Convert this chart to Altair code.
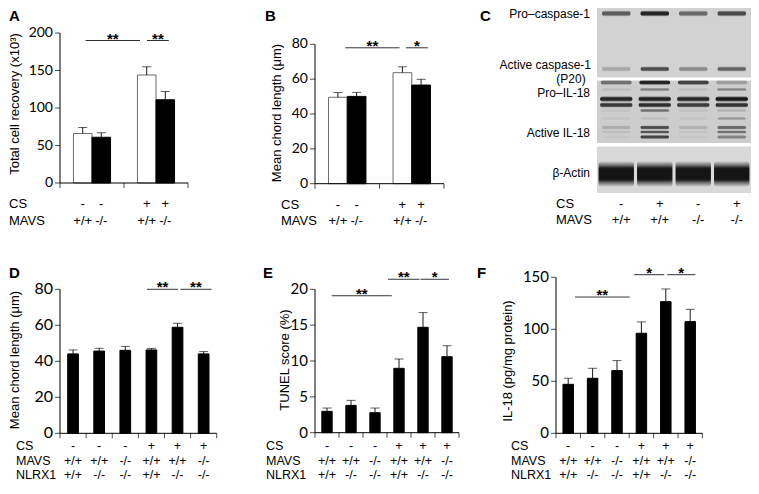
import altair as alt
import pandas as pd

OX, OY = 8, 8          # page margin
W, H = 743, 476        # whole canvas (chart coordinates)

LABEL_FONT = "Liberation Sans"
NUM_FONT = "Lato"

# ---------------- data ----------------
A_cs = ["-", "-", "+", "+"]
A_mavs = ["+/+", "-/-", "+/+", "-/-"]
A_values = [66, 61, 144, 111]
A_errors = [8, 6, 11, 11]
A_ticks = [0, 50, 100, 150, 200]
A_sig = [(0.40, 1.25, 190, "**"), (1.36, 1.70, 190, "**")]

B_cs = ["-", "-", "+", "+"]
B_mavs = ["+/+", "-/-", "+/+", "-/-"]
B_values = [49.6, 50.1, 63.7, 56.6]
B_errors = [2.7, 2.3, 3.4, 3.3]
B_ticks = [0, 20, 40, 60, 80]
B_sig = [(0.47, 1.31, 78, "**"), (1.41, 1.75, 78, "*")]

D_cs = ["-", "-", "-", "+", "+", "+"]
D_mavs = ["+/+", "+/+", "-/-", "+/+", "+/+", "-/-"]
D_nlrx1 = ["+/+", "-/-", "-/-", "+/+", "-/-", "-/-"]
D_values = [44.1, 45.7, 46.1, 46.3, 58.9, 44.1]
D_errors = [2.2, 1.5, 2.2, 0.9, 2.2, 1.3]
D_ticks = [0, 20, 40, 60, 80]
D_sig = [(3.33, 4.52, 80, "**"), (4.61, 5.80, 80, "**")]

E_values = [2.98, 3.81, 2.79, 8.98, 14.7, 10.6]
E_errors = [0.46, 0.70, 0.65, 1.30, 2.05, 1.53]
E_ticks = [0, 5, 10, 15, 20]
E_sig = [(0.70, 3.20, 19.1, "**"), (3.04, 4.36, 21.4, "**"), (4.40, 5.58, 21.4, "*")]

F_values = [47.1, 52.9, 60.3, 96.2, 126.6, 107.4]
F_errors = [5.8, 9.6, 9.6, 10.9, 12.2, 11.8]
F_ticks = [0, 50, 100, 150]
F_sig = [(0.78, 3.02, 131, "**"), (3.20, 4.44, 152.5, "*"), (4.56, 5.71, 152.5, "*")]

# western blot (panel C): lanes and band rows (migration position, band intensities per lane)
C_cs = ["-", "+", "-", "+"]
C_mavs = ["+/+", "+/+", "-/-", "-/-"]
C_band_pos = [13.5, 69, 82.5, 89.5, 99, 105, 110.5, 118.5, 127.5, 132, 137, 174, 174]
C_band_int = [
    [0.62, 0.90, 0.55, 0.72],   # pro-caspase-1
    [0.22, 0.70, 0.38, 0.58],   # active caspase-1 (p20)
    [0.50, 0.90, 0.75, 0.25],   # upper band (cut)
    [0.08, 0.40, 0.08, 0.38],
    [0.90, 0.92, 0.88, 0.97],   # pro-IL-18 (upper)
    [0.80, 0.86, 0.78, 0.84],   # pro-IL-18 (lower)
    [0.06, 0.50, 0.08, 0.15],
    [0.05, 0.08, 0.05, 0.30],
    [0.18, 0.70, 0.15, 0.55],   # active IL-18
    [0.08, 0.65, 0.06, 0.50],
    [0.03, 0.75, 0.03, 0.40],
    [0.98, 0.98, 0.97, 0.99],   # beta-actin (halo)
    [0.95, 0.95, 0.93, 0.97],   # beta-actin (core)
]
C_band_thick = [3.2, 2.8, 2.6, 1.8, 3.0, 2.8, 1.8, 1.6, 2.2, 1.8, 2.2, 13, 8]
C_band_width = [0.74, 0.74, 0.8, 0.75, 0.84, 0.84, 0.74, 0.72, 0.74, 0.74, 0.74, 0.92, 0.88]
C_strips = [(8, 77.5, "#d2d2d2"), (80.5, 143, "#cdcdcd"), (146.5, 193, "#d9d9d9")]
C_labels = ["Pro\u2013caspase-1", "Active caspase-1", "(P20)", "Pro\u2013IL-18", "Active IL-18", "\u03b2-Actin"]


def px(x):
    return x - OX


def py(y):
    return y - OY


ONE = pd.DataFrame({"a": [0]})


def text_layer(txt, x, y, size=13, bold=False, align="left", angle=0, baseline="middle", font=LABEL_FONT):
    kw = dict(text=txt, font=font, fontSize=size, align=align, baseline=baseline, color="#000")
    if bold:
        kw["fontWeight"] = "bold"
    if angle:
        kw["angle"] = angle
    return alt.Chart(ONE).mark_text(**kw).encode(x=alt.value(px(x)), y=alt.value(py(y)))


def pair_table(cs, mavs, values, errors):
    rows = []
    for c, m, v, e in zip(cs, mavs, values, errors):
        g = 0 if c == "-" else 1
        k = 0 if m == "+/+" else 1
        x0 = g + 0.21 + 0.29 * k
        rows.append(dict(x0=x0, x1=x0 + 0.29, xc=x0 + 0.145, val=v, top=v + e,
                         r0=c, r1=m,
                         fill="white" if k == 0 else "black",
                         edge="#6b6b6b" if k == 0 else "#000000"))
    return pd.DataFrame(rows)


def six_table(values, errors, bw):
    rows = []
    for i, (v, e) in enumerate(zip(values, errors)):
        xc = i + 0.5
        rows.append(dict(x0=xc - bw / 2, x1=xc + bw / 2, xc=xc, val=v, top=v + e,
                         r0=D_cs[i], r1=D_mavs[i], r2=D_nlrx1[i],
                         fill="black", edge="#000000"))
    return pd.DataFrame(rows)


def bar_panel(df, n, box, ticks, sig, num_size, row_y, row_names, names_x,
              title, title_xy, letter, letter_xy, cap=9, row_size=13):
    left, right, bottom, top = box
    ymax = ticks[-1]
    xs = alt.Scale(domain=[0, n], range=[px(left), px(right)], nice=False, zero=False)
    ys = alt.Scale(domain=[0, ymax], range=[py(bottom), py(top)], nice=False, zero=False)

    def X(f):
        return alt.X(f, scale=xs, axis=None)

    def Y(f):
        return alt.Y(f, scale=ys, axis=None)

    XD = alt.XDatum(0, type="quantitative", scale=xs, axis=None)
    YD = alt.YDatum(0, type="quantitative", scale=ys, axis=None)
    parts = []
    # bars
    parts.append(alt.Chart(df).mark_rect(strokeWidth=1).encode(
        x=X("x0:Q"), x2="x1:Q", y=Y("val:Q"), y2=alt.datum(0),
        fill=alt.Fill("fill:N", scale=None, legend=None),
        stroke=alt.Stroke("edge:N", scale=None, legend=None)))
    # error bars
    parts.append(alt.Chart(df).mark_rule(color="#1a1a1a", strokeWidth=1).encode(
        x=X("xc:Q"), y=Y("val:Q"), y2="top:Q"))
    parts.append(alt.Chart(df).mark_tick(orient="horizontal", size=cap, thickness=1, color="#1a1a1a").encode(
        x=X("xc:Q"), y=Y("top:Q")))
    # axes
    parts.append(alt.Chart(ONE).mark_rule(color="#000", strokeWidth=1).encode(
        x=XD, y=YD, y2=alt.datum(ymax)))
    parts.append(alt.Chart(ONE).mark_rule(color="#000", strokeWidth=1).encode(
        x=XD, x2=alt.datum(n), y=YD))
    tdf = pd.DataFrame({"v": ticks, "lab": [str(t) for t in ticks]})
    parts.append(alt.Chart(tdf).mark_tick(orient="horizontal", size=5, thickness=1, color="#000",
                                          xOffset=-2.5).encode(x=XD, y=Y("v:Q")))
    parts.append(alt.Chart(tdf).mark_text(align="right", baseline="middle", dx=-7, font=NUM_FONT,
                                          fontSize=num_size, color="#000").encode(
        x=XD, y=Y("v:Q"), text="lab:N"))
    xt = pd.DataFrame({"v": list(range(n + 1))})
    parts.append(alt.Chart(xt).mark_tick(orient="vertical", size=5, thickness=1, color="#000",
                                         yOffset=2.5).encode(x=X("v:Q"), y=YD))
    # significance
    sdf = pd.DataFrame(sig, columns=["s0", "s1", "sy", "stars"])
    sdf["sm"] = (sdf["s0"] + sdf["s1"]) / 2
    parts.append(alt.Chart(sdf).mark_rule(color="#333", strokeWidth=1).encode(
        x=X("s0:Q"), x2="s1:Q", y=Y("sy:Q")))
    parts.append(alt.Chart(sdf).mark_text(font=LABEL_FONT, fontSize=15, fontWeight="bold",
                                          baseline="alphabetic", dy=3, color="#000").encode(
        x=X("sm:Q"), y=Y("sy:Q"), text="stars:N"))
    # category rows under the axis
    for i, (ry, name) in enumerate(zip(row_y, row_names)):
        parts.append(alt.Chart(df).mark_text(font=LABEL_FONT, fontSize=row_size, baseline="middle",
                                             color="#000").encode(
            x=X("xc:Q"), y=alt.value(py(ry)), text=f"r{i}:N"))
        parts.append(text_layer(name, names_x, ry, size=row_size, align="left"))
    parts.append(text_layer(title, title_xy[0], title_xy[1], angle=270, align="center"))
    parts.append(text_layer(letter, letter_xy[0], letter_xy[1], size=15, bold=True,
                            baseline="top", font="Liberation Sans"))
    return alt.layer(*parts)


panel_A = bar_panel(pair_table(A_cs, A_mavs, A_values, A_errors), 2, (60, 188, 183, 33), A_ticks, A_sig,
                    14, [204, 221], ["CS", "MAVS"], 9, "Total cell recovery (x10\u00b3)", (15, 104),
                    "A", (9, 9))
panel_B = bar_panel(pair_table(B_cs, B_mavs, B_values, B_errors), 2, (315, 444, 183.7, 44.3), B_ticks,
                    B_sig, 14, [205, 221], ["CS", "MAVS"], 281, "Mean chord length (\u03bcm)", (277, 113),
                    "B", (265, 9))
bottom_rows = [446, 460.5, 475]
panel_D = bar_panel(six_table(D_values, D_errors, 0.41), 6, (60, 216.7, 433.3, 289.3), D_ticks, D_sig,
                    16, bottom_rows, ["CS", "MAVS", "NLRX1"], 16, "Mean chord length (\u03bcm)", (15, 360),
                    "D", (9, 266), row_size=12.5)
panel_E = bar_panel(six_table(E_values, E_errors, 0.43), 6, (315, 459, 432.7, 289.3), E_ticks, E_sig,
                    15, bottom_rows, ["CS", "MAVS", "NLRX1"], 266, "TUNEL score (%)", (285, 360),
                    "E", (263, 266), row_size=12.5)
panel_F = bar_panel(six_table(F_values, F_errors, 0.43), 6, (556, 702.4, 433.3, 277.3), F_ticks, F_sig,
                    15, bottom_rows, ["CS", "MAVS", "NLRX1"], 511, "IL-18 (pg/mg protein)", (508, 361),
                    "F", (477, 266), row_size=12.5)

# ---------------- panel C: blot ----------------
bx = alt.Scale(domain=[0, 4], range=[px(597), px(751)], nice=False, zero=False)
by = alt.Scale(domain=[0, 200], range=[py(0), py(200)], nice=False, zero=False)
strip_df = pd.DataFrame(C_strips, columns=["t", "b", "col"])
band_rows = []
for pos, ints, th, wd in zip(C_band_pos, C_band_int, C_band_thick, C_band_width):
    for lane, op in enumerate(ints):
        band_rows.append(dict(x0=lane + 0.5 - wd / 2, x1=lane + 0.5 + wd / 2,
                              y0=pos - th, y1=pos + th, op=op))
band_df = pd.DataFrame(band_rows)
lane_df = pd.DataFrame({"xc": [i + 0.5 for i in range(4)], "cs": C_cs, "mavs": C_mavs})

grad = alt.LinearGradient(
    gradient="linear",
    stops=[alt.GradientStop(color="rgba(20,20,20,0)", offset=0),
           alt.GradientStop(color="#141414", offset=0.3),
           alt.GradientStop(color="#141414", offset=0.7),
           alt.GradientStop(color="rgba(20,20,20,0)", offset=1)],
    x1=0, x2=0, y1=0, y2=1)

c_parts = [
    alt.Chart(strip_df).mark_rect().encode(
        x=alt.XDatum(0, type="quantitative", scale=bx, axis=None), x2=alt.datum(4),
        y=alt.Y("t:Q", scale=by, axis=None), y2="b:Q",
        fill=alt.Fill("col:N", scale=None, legend=None)),
    alt.Chart(band_df).mark_rect(fill=grad, cornerRadius=3).encode(
        x=alt.X("x0:Q", scale=bx, axis=None), x2="x1:Q",
        y=alt.Y("y0:Q", scale=by, axis=None), y2="y1:Q",
        opacity=alt.Opacity("op:Q", scale=None, legend=None)),
    alt.Chart(lane_df).mark_text(font=LABEL_FONT, fontSize=13, dx=5, baseline="middle", color="#000").encode(
        x=alt.X("xc:Q", scale=bx, axis=None), y=alt.value(py(204)), text="cs:N"),
    alt.Chart(lane_df).mark_text(font=LABEL_FONT, fontSize=13, dx=5, baseline="middle", color="#000").encode(
        x=alt.X("xc:Q", scale=bx, axis=None), y=alt.value(py(220)), text="mavs:N"),
    text_layer("CS", 556, 204),
    text_layer("MAVS", 556, 220),
    text_layer(C_labels[0], 590, 14, size=12, align="right"),
    text_layer(C_labels[1], 591, 64.5, size=12, align="right"),
    text_layer(C_labels[2], 571, 78.5, size=12, align="center"),
    text_layer(C_labels[3], 590, 92.5, size=12, align="right"),
    text_layer(C_labels[4], 590, 133, size=12, align="right"),
    text_layer(C_labels[5], 590, 172.5, size=12, align="right"),
    text_layer("C", 480, 9, size=15, bold=True, baseline="top"),
]
panel_C = alt.layer(*c_parts)

chart = alt.layer(panel_A, panel_B, panel_C, panel_D, panel_E, panel_F).resolve_scale(
    x="independent", y="independent"
).properties(
    width=W, height=H, padding=0, autosize=alt.AutoSizeParams(type="none")
).configure_view(strokeWidth=0)

chart.save("out.html", embed_options={"renderer": "svg", "actions": False})
